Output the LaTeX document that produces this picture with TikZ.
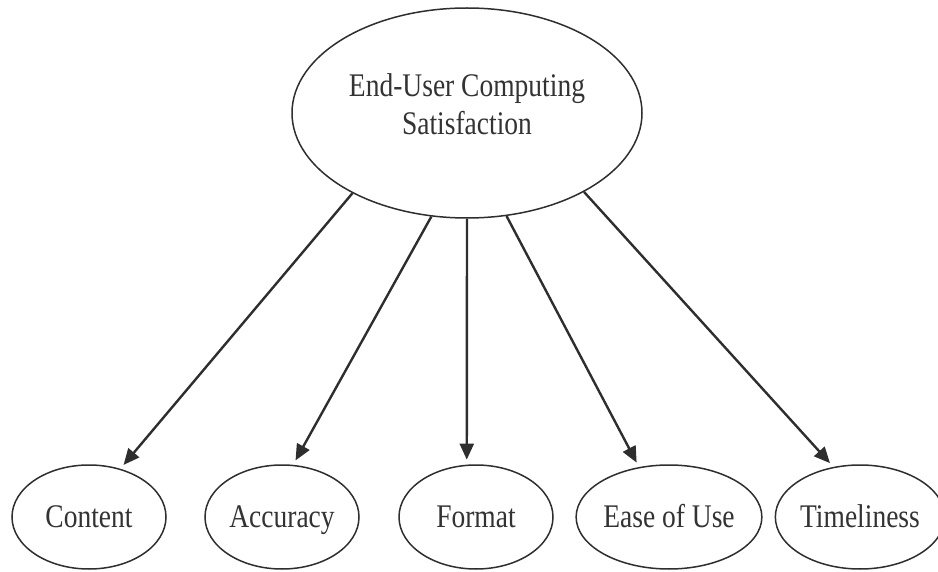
\documentclass[tikz,border=0pt]{standalone}
\usepackage{fontspec}
\setmainfont{Liberation Serif}
\usetikzlibrary{shapes.geometric,arrows.meta}
\definecolor{ink}{HTML}{2E2E2E}
\definecolor{txt}{HTML}{333333}
\newcommand{\tallt}[1]{\scalebox{1}[1.2]{#1}}
\begin{document}
\begin{tikzpicture}[x=1pt,y=-1pt,
  oval/.style={ellipse, draw=ink, line width=1.5pt, inner sep=0pt,
    minimum width=154pt, minimum height=104pt,
    text=txt, font=\fontsize{27.5}{32}\selectfont, text height=21pt, text depth=0pt},
  bigoval/.style={ellipse, draw=ink, line width=1.5pt, inner sep=0pt,
    minimum width=350pt, minimum height=210pt},
  toptext/.style={text=txt, inner sep=0pt},
  arr/.style={draw=ink, line width=2.4pt, -{Triangle[length=16pt,width=14pt]}, shorten >=5pt}]
\useasboundingbox (0,0) rectangle (938,572);
\node[bigoval] (ecs) at (467,113) {};
\node[toptext] (ecstext) at (467,108)
  {\tallt{\fontsize{27.5}{32}\selectfont\begin{tabular}{@{}c@{}}End-User Computing\\Satisfaction\end{tabular}}};
\node[oval] (content) at (89,517) {\tallt{Content}};
\node[oval] (accuracy) at (282,517) {\tallt{Accuracy}};
\node[oval] (format) at (476,517) {\tallt{Format}};
\node[oval] (ease) at (669,517) {\tallt{Ease of Use}};
\node[oval] (timeliness) at (860,517) {\tallt{Timeliness}};
\draw[arr] (ecs.-145.2) -- (content.57);
\draw[arr] (ecs.-109.8) -- (accuracy.78);
\draw[arr] (ecs.-90) -- (format.100);
\draw[arr] (ecs.-69.7) -- (ease.121);
\draw[arr] (ecs.-34.8) -- (timeliness.118);
\end{tikzpicture}
\end{document}
